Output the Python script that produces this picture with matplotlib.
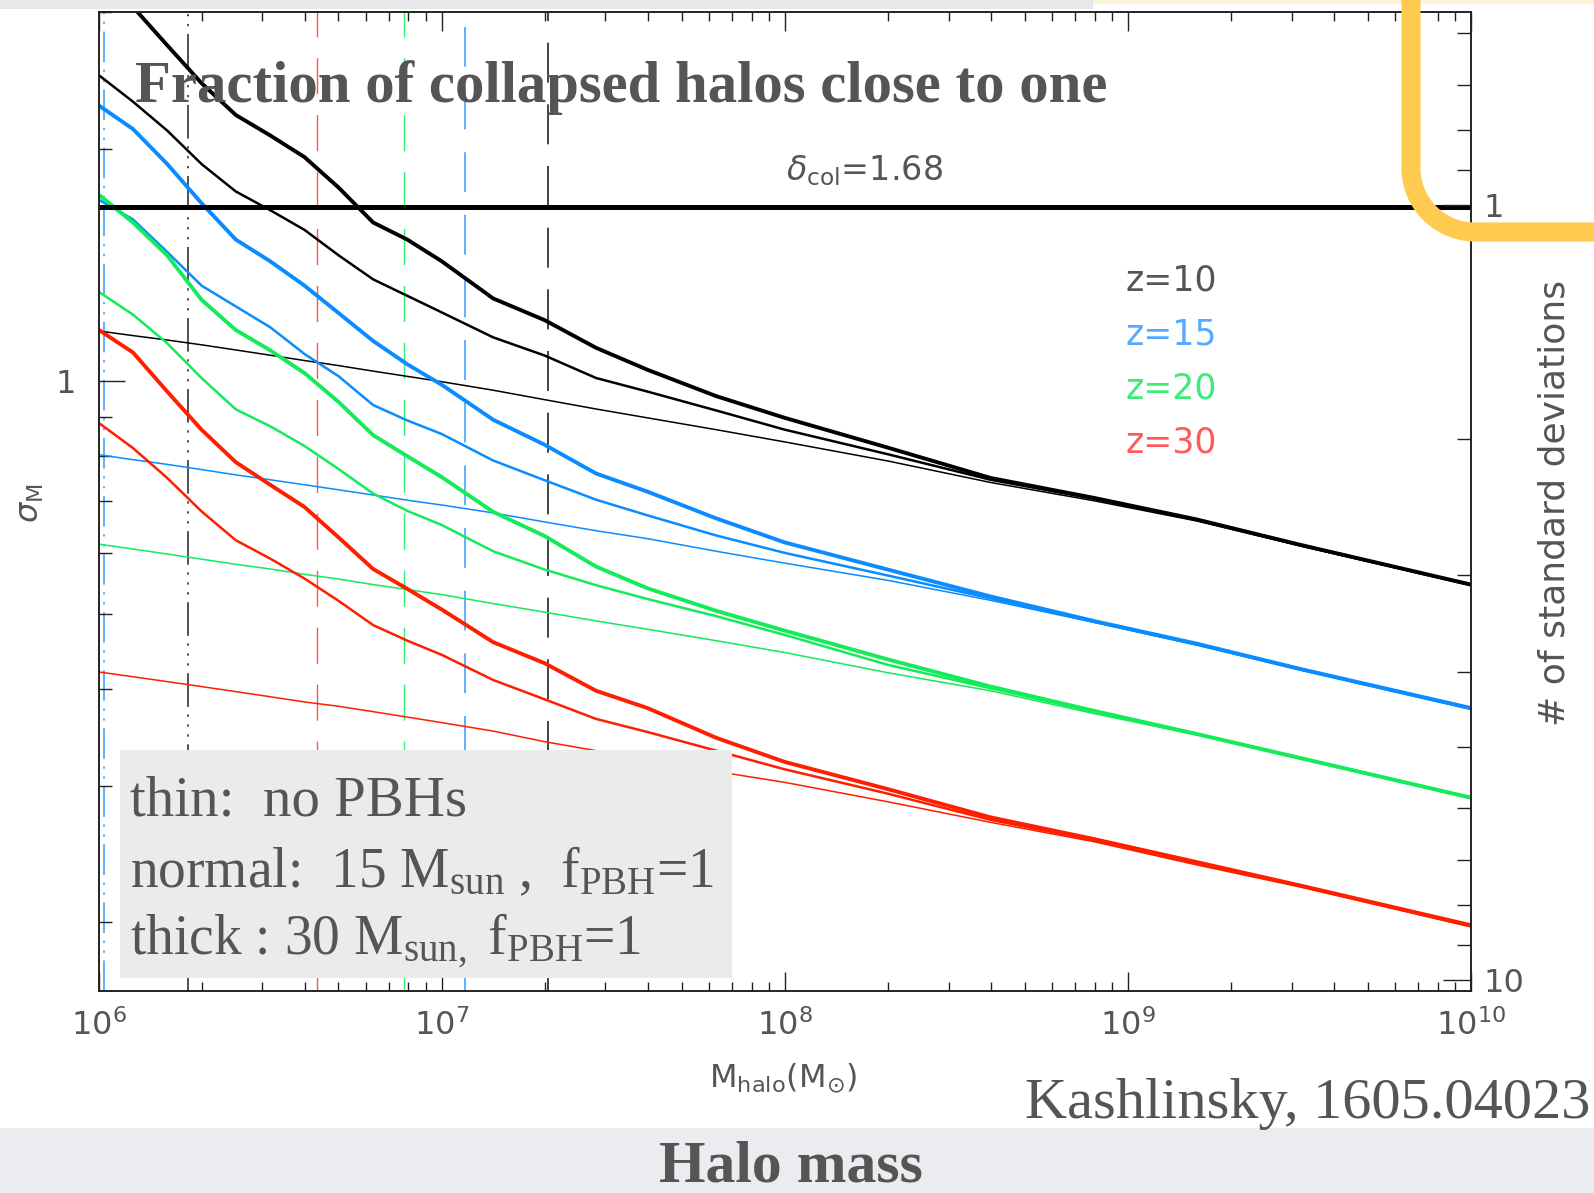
import numpy as np
import matplotlib
matplotlib.use('Agg')
import matplotlib.pyplot as plt
from matplotlib.patches import Rectangle

W, H, DPI = 1594, 1193, 100

plt.rcParams['mathtext.fontset'] = 'dejavusans'
plt.rcParams['mathtext.rm'] = 'Liberation Serif'
plt.rcParams['mathtext.it'] = 'Liberation Serif:italic'
plt.rcParams['mathtext.bf'] = 'Liberation Serif:bold'

# halo mass grid, log10(M / Msun)
log_mass = [6.0, 6.1, 6.2, 6.3, 6.4, 6.5, 6.6, 6.7, 6.8, 6.9, 7.0, 7.15,
            7.3, 7.45, 7.6, 7.8, 8.0, 8.3, 8.6, 8.9, 9.2, 9.5, 10.0]

# sigma_M for z=10: no PBHs / 15 Msun PBHs / 30 Msun PBHs
sig_z10_none = [1.162, 1.146, 1.131, 1.115, 1.098, 1.081, 1.064, 1.048, 1.031, 1.015, 0.999, 0.974,
                0.947, 0.921, 0.897, 0.866, 0.835, 0.789, 0.740, 0.701, 0.660, 0.613, 0.545]
sig_z10_15 = [2.49, 2.30, 2.11, 1.91, 1.76, 1.665, 1.57, 1.455, 1.355, 1.29, 1.228, 1.14,
              1.08, 1.01, 0.97, 0.917, 0.866, 0.805, 0.746, 0.705, 0.662, 0.614, 0.545]
sig_z10_30 = [3.40, 3.05, 2.72, 2.43, 2.21, 2.08, 1.95, 1.78, 1.605, 1.525, 1.43, 1.28,
              1.20, 1.105, 1.035, 0.957, 0.897, 0.821, 0.750, 0.707, 0.663, 0.615, 0.546]

# z=15
sig_z15_none = [0.804, 0.792, 0.781, 0.769, 0.757, 0.746, 0.735, 0.724, 0.713, 0.702, 0.692, 0.676,
                0.658, 0.641, 0.626, 0.603, 0.582, 0.553, 0.521, 0.488, 0.456, 0.424, 0.377]
sig_z15_15 = [1.718, 1.62, 1.47, 1.33, 1.25, 1.175, 1.085, 1.015, 0.932, 0.89, 0.855, 0.79,
              0.745, 0.703, 0.671, 0.632, 0.600, 0.561, 0.524, 0.489, 0.457, 0.424, 0.377]
sig_z15_30 = [2.275, 2.12, 1.91, 1.70, 1.525, 1.43, 1.33, 1.225, 1.128, 1.052, 0.99, 0.892,
              0.828, 0.76, 0.72, 0.665, 0.619, 0.571, 0.527, 0.490, 0.458, 0.425, 0.378]

# z=20
sig_z20_none = [0.616, 0.607, 0.598, 0.589, 0.580, 0.572, 0.563, 0.555, 0.546, 0.538, 0.530, 0.516,
                0.503, 0.490, 0.478, 0.462, 0.446, 0.420, 0.398, 0.372, 0.349, 0.325, 0.289]
sig_z20_15 = [1.306, 1.22, 1.12, 1.01, 0.92, 0.875, 0.825, 0.77, 0.716, 0.68, 0.652, 0.603,
              0.571, 0.545, 0.523, 0.497, 0.470, 0.430, 0.401, 0.374, 0.350, 0.326, 0.289]
sig_z20_30 = [1.744, 1.605, 1.455, 1.275, 1.165, 1.097, 1.025, 0.94, 0.852, 0.80, 0.752, 0.678,
              0.631, 0.576, 0.540, 0.505, 0.476, 0.437, 0.403, 0.375, 0.350, 0.326, 0.2895]

# z=30
sig_z30_none = [0.421, 0.415, 0.409, 0.403, 0.397, 0.391, 0.385, 0.380, 0.374, 0.368, 0.362, 0.353,
                0.342, 0.333, 0.324, 0.313, 0.303, 0.286, 0.269, 0.254, 0.237, 0.222, 0.197]
sig_z30_15 = [0.884, 0.82, 0.75, 0.679, 0.623, 0.590, 0.556, 0.52, 0.484, 0.462, 0.443, 0.411,
              0.388, 0.366, 0.352, 0.333, 0.315, 0.293, 0.271, 0.255, 0.238, 0.223, 0.1975]
sig_z30_30 = [1.166, 1.09, 0.97, 0.866, 0.786, 0.735, 0.688, 0.628, 0.572, 0.539, 0.507, 0.460,
              0.432, 0.398, 0.378, 0.346, 0.322, 0.297, 0.273, 0.256, 0.239, 0.223, 0.198]

z_labels = ['z=10', 'z=15', 'z=20', 'z=30']
z_colors = ['#000000', '#0a8cff', '#14eb5a', '#ff1e00']
z_text_colors = ['#555555', '#55aaff', '#3ceb78', '#ff5a5a']
curves = [
    (sig_z10_none, sig_z10_15, sig_z10_30),
    (sig_z15_none, sig_z15_15, sig_z15_30),
    (sig_z20_none, sig_z20_15, sig_z20_30),
    (sig_z30_none, sig_z30_15, sig_z30_30),
]
curve_widths = [1.1, 1.8, 2.8]

delta_col = 1.68

# vertical marker masses
mark_mass = [1.04e6, 1.82e6, 4.32e6, 7.78e6, 1.168e7, 2.04e7]
mark_colors = ['#3399ff', '#222222', '#ff5555', '#33ee77', '#3399ff', '#222222']
mark_styles = [(0, (20, 5, 1.5, 5, 1.5, 5)),
               (0, (22, 5, 1.5, 5, 1.5, 5, 1.5, 5)),
               (10, (26, 15)), (10, (26, 15)), (10, (26, 15)), (10, (24, 13))]
mark_widths = [1.1, 1.1, 1.0, 1.0, 1.1, 1.2]

ylo, yhi = 0.1628, 2.98
gray = '#555555'

fig = plt.figure(figsize=(W / DPI, H / DPI), dpi=DPI)
fig.patch.set_facecolor('white')
x0, x1, y0, y1 = 98.6, 1471.0, 12.4, 991.0
ax = fig.add_axes([x0 / W, 1 - y1 / H, (x1 - x0) / W, (y1 - y0) / H])
ax.set_xscale('log')
ax.set_yscale('log')
ax.set_xlim(1e6, 1e10)
ax.set_ylim(ylo, yhi)

mass = np.power(10.0, log_mass)
for i in range(6):
    ax.axvline(mark_mass[i], color=mark_colors[i], ls=mark_styles[i], lw=mark_widths[i], zorder=1)

ax.axhline(delta_col, color='black', lw=3.6, zorder=3)

for (thin, normal, thick), c in zip(curves, z_colors):
    for sig, lw in zip((thin, normal, thick), curve_widths):
        ax.plot(mass, sig, color=c, lw=lw, zorder=2, solid_joinstyle='round')

# ticks
ax.set_xticks([1e6, 1e7, 1e8, 1e9, 1e10])
ax.set_xticklabels([r'$10^{6}$', r'$10^{7}$', r'$10^{8}$', r'$10^{9}$', r'$10^{10}$'])
ax.set_yticks([1])
ax.set_yticklabels(['1'])
ax.set_yticks([0.2, 0.3, 0.4, 0.5, 0.6, 0.7, 0.8, 0.9, 2, 3], minor=True)
ax.yaxis.set_minor_formatter(matplotlib.ticker.NullFormatter())
ax.tick_params(axis='x', which='both', direction='in', top=True, bottom=True,
               color='#222222', width=1.0, labelcolor=gray, labelsize=23, pad=13)
ax.tick_params(axis='x', which='major', length=13.7)
ax.tick_params(axis='x', which='minor', length=6.8)
ax.tick_params(axis='y', which='both', direction='in', left=True, right=False,
               color='#222222', width=1.0, labelcolor=gray, labelsize=23, pad=16)
ax.tick_params(axis='y', which='major', length=19)
ax.tick_params(axis='y', which='minor', length=9)
for s in ax.spines.values():
    s.set_linewidth(1.2)
    s.set_color('#222222')

# right axis: number of standard deviations
ax2 = ax.twinx()
ax2.set_yscale('log')
ax2.set_ylim(delta_col / ylo, delta_col / yhi)
ax2.set_yticks([1, 10])
ax2.set_yticklabels(['1', '10'])
ax2.set_yticks([0.6, 0.7, 0.8, 0.9, 2, 3, 4, 5, 6, 7, 8, 9], minor=True)
ax2.yaxis.set_minor_formatter(matplotlib.ticker.NullFormatter())
ax2.tick_params(axis='y', which='both', direction='in', color='#222222', width=1.0,
                labelcolor=gray, labelsize=23, pad=9)
ax2.tick_params(axis='y', which='major', length=20)
ax2.tick_params(axis='y', which='minor', length=10)
for s in ax2.spines.values():
    s.set_linewidth(1.2)
    s.set_color('#222222')

for i, lab in enumerate(z_labels):
    ax.text(0.7486, 0.7265 - 0.0555 * i, lab, transform=ax.transAxes, color=z_text_colors[i],
            fontsize=25, ha='left', va='center')
ax.text(0.5577, 0.838, r'$\delta_{\rm col}$=1.68', transform=ax.transAxes, color=gray,
        fontsize=24, ha='center', va='center')

# slide decorations in pixel coordinates
ov = fig.add_axes([0, 0, 1, 1], zorder=5)
ov.set_xlim(0, W)
ov.set_ylim(H, 0)
ov.axis('off')

ov.add_patch(Rectangle((0, 0), 1093, 9, color='#e6e8ec', lw=0))
ov.add_patch(Rectangle((1093, 0), W - 1093, 4, color='#fbf1d8', lw=0))
ov.add_patch(Rectangle((0, 1128), W, H - 1128, color='#eaecef', lw=0))
ov.add_patch(Rectangle((120, 750), 612, 228, color='#ebebeb', lw=0))

serif = 'Liberation Serif'
ov.text(135, 102, 'Fraction of collapsed halos close to one', family=serif, weight='bold',
        fontsize=42.3, color=gray, va='baseline', ha='left')
ov.text(130, 816, 'thin:  no PBHs', family=serif, fontsize=41, color=gray, va='baseline')
ov.text(130, 887, r'normal:  15 $\mathrm{M_{sun}}$ ,  $\mathrm{f_{PBH}}$=1', family=serif,
        fontsize=40, color=gray, va='baseline', math_fontfamily='custom')
ov.text(130, 955, r'thick : 30 $\mathrm{M_{sun,}}$ $\mathrm{f_{PBH}}$=1', family=serif,
        fontsize=40, color=gray, va='baseline', math_fontfamily='custom')
ov.text(1025, 1118, 'Kashlinsky, 1605.04023', family=serif, fontsize=42, color=gray,
        va='baseline', ha='left')
ov.text(791, 1182, 'Halo mass', family=serif, weight='bold', fontsize=43, color=gray,
        va='baseline', ha='center')

ov.text(31, 503, r'$\sigma_{\rm M}$', rotation=90, fontsize=23, color=gray, ha='center', va='center')
ov.text(1555, 503, '# of standard deviations', rotation=90, fontsize=26, color=gray,
        ha='center', va='center')
ov.text(783, 1078, r'$\mathrm{M_{halo}(M_{\odot})}$', fontsize=23, color=gray, ha='center',
        va='center')

# highlight bracket
t = np.linspace(0, np.pi / 2, 40)
bx = np.concatenate([[1411, 1411], 1475 - 64 * np.cos(t), [W + 10]])
by = np.concatenate([[-10, 168], 168 + 64 * np.sin(t), [232]])
ov.plot(bx, by, color='#ffca50', lw=13.7, solid_capstyle='butt', solid_joinstyle='round')

fig.savefig('out.png', dpi=DPI)
